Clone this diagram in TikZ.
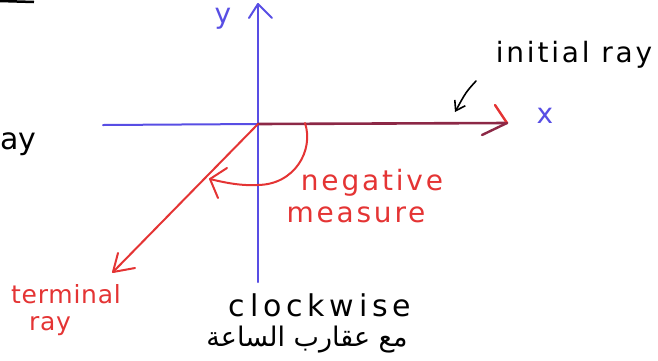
\documentclass[tikz,border=0pt]{standalone}
\usepackage{fontspec}
\setmainfont{DejaVu Sans}
\newfontfamily\handA[LetterSpace=10]{DejaVu Sans}
\newfontfamily\handB[LetterSpace=16]{DejaVu Sans}
\newfontfamily\handC[LetterSpace=3]{DejaVu Sans}
\newfontfamily\arabicfont[Script=Arabic]{DejaVu Sans}
\TeXXeTstate=1
\usetikzlibrary{arrows.meta}
\definecolor{axisblue}{RGB}{88,78,228}
\definecolor{penred}{RGB}{228,52,52}
\definecolor{raydark}{RGB}{140,40,70}
\tikzset{
  axis/.style={draw=axisblue, line width=2pt, line cap=round},
  redpen/.style={draw=penred, line width=2pt, line cap=round},
  redlab/.style={text=penred, inner sep=0pt},
  blacklab/.style={text=black, inner sep=0pt},
  bluelab/.style={text=axisblue, font=\fontsize{28}{28}\selectfont, inner sep=0pt},
}
\begin{document}
\begin{tikzpicture}[x=1pt,y=-1pt]
\useasboundingbox (0,0) rectangle (658,360);
% points
\coordinate (O) at (258,124);
\coordinate (xl) at (103,125);
\coordinate (xr) at (507,123);
\coordinate (yb) at (258,282);
\coordinate (yt) at (258,4);
\coordinate (term) at (113,272);
\coordinate (arcS) at (305,123);
\coordinate (arcE) at (210,179);
% axes
\draw[axis] (xl) -- (O);
\draw[axis] (yb) -- (yt);
\draw[axis] (yt) -- ++(-9,14);
\draw[axis] (yt) -- ++(14,14);
% initial ray (dark over blue)
\draw[draw=raydark, line width=2.6pt, line cap=round] (O) -- (xr);
\draw[redpen, line width=2.4pt] (xr) -- ++(-12,-18);
\draw[draw=raydark, line width=2.4pt, line cap=round] (xr) -- ++(-25,12);
% terminal ray
\draw[redpen] (O) -- (term);
\draw[redpen] (term) -- ++(5,-19);
\draw[redpen] (term) -- ++(22,-4);
% arc
\draw[redpen] (arcS) .. controls (314,150) and (295,185) .. (257,185) .. controls (240,186) and (222,182) .. (arcE);
\draw[redpen] (arcE) -- ++(17,-11);
\draw[redpen] (arcE) -- ++(8,19);
% labels
\node[bluelab] (ylab) at (223,19) {y};
\node[bluelab] (xlab) at (545,116) {x};
\node[blacklab, font=\handA\fontsize{28}{30}\selectfont] (init) at (574,55) {initial ray};
\coordinate (ia) at (476,81);
\draw[draw=black, line width=1.6pt, line cap=round, -{Straight Barb[length=9pt,width=12pt]}] (ia) .. controls (466,92) .. (455,112);
\node[redlab, font=\handA\fontsize{28}{30}\selectfont] (neg) at (372,183) {negative};
\node[redlab, font=\handA\fontsize{28}{30}\selectfont] (meas) at (356,215) {measure};
\node[redlab, font=\handC\fontsize{25}{26}\selectfont] (termlab) at (66,294) {terminal};
\node[redlab, font=\handC\fontsize{25}{26}\selectfont] (raylab) at (50,326) {ray};
\node[blacklab, font=\handB\fontsize{30}{32}\selectfont] (cw) at (320,305) {clockwise};
\node[text=black, font=\arabicfont\fontsize{27}{30}\selectfont, inner sep=0pt] (ar) at (307,340) {\beginR مع عقارب الساعة\endR};
\node[blacklab, font=\fontsize{30}{30}\selectfont, anchor=west] (ay) at (0,144) {ay};
\draw[draw=black, line width=2.5pt] (0,1) -- (34,2);
\end{tikzpicture}
\end{document}
